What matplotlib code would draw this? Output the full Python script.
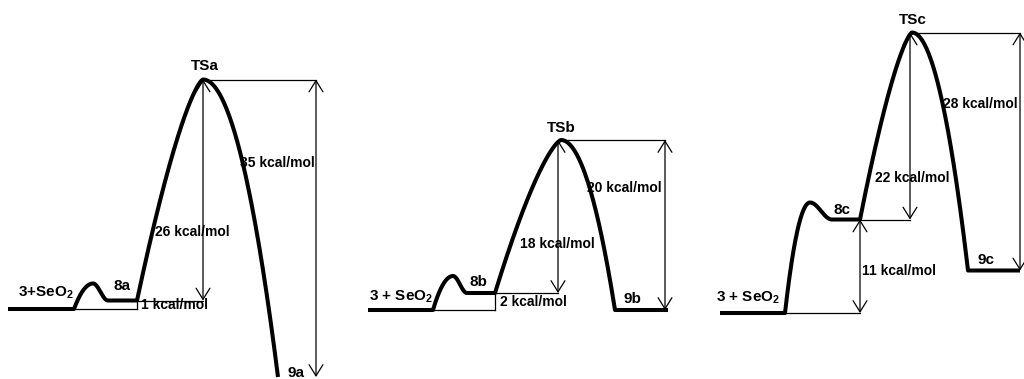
import numpy as np
import matplotlib.pyplot as plt

plt.rcParams['font.family'] = ['Liberation Sans', 'DejaVu Sans']
plt.rcParams['font.weight'] = 'bold'

# energies in kcal/mol relative to 3 + SeO2
start_labels = ['3+SeO$_\\mathregular{2}$', '3 + SeO$_\\mathregular{2}$', '3 + SeO$_\\mathregular{2}$']
int_labels = ['8a', '8b', '8c']
ts_labels = ['TSa', 'TSb', 'TSc']
prod_labels = ['9a', '9b', '9c']
E_bump = [3, 4, 13]      # small hump before the intermediate (not labelled)
E_int = [1, 2, 11]
E_ts = [27, 20, 33]
E_prod = [-8, 0, 5]

# horizontal layout of each profile (figure pixels)
xR0 = [8, 368, 720]
xR1 = [74, 433, 785]
xBump = [93, 453, 810]
xI0 = [108, 467, 832]
xI1 = [137, 495, 860]
xTS = [203, 561, 912]
xP0 = [278, 615, 968]
xP1 = [278, 668, 1020]
xArrI = [203, 558, 910]
xArrP = [316, 665, 1020]
base = [309, 310, 313]   # pixel row of the zero level in each panel
k = 8.5                  # pixels per kcal/mol

# label offsets in pixels (dx, dy)
off_start = [(0, 16), (0, 13), (-5, 15)]
off_int = [(0, 14), (-3, 11), (-4, 10)]
off_ts = [(2, 13), (0, 12), (1, 12)]
off_prod = [(-11, 4), (8, 11), (10, 11)]
off_b1 = [(4, 0), (5, 0), (2, -5)]
off_b2 = [(-11, -42), (-1, -27), (2, -52)]
off_b3 = [(-1, 65), (-3, 37), (-2, 48)]

fig = plt.figure(figsize=(10.24, 3.79), dpi=100)
arrow_kw = dict(arrowstyle='<->,head_length=0.8,head_width=0.5', mutation_scale=10,
                lw=0.9, color='black', shrinkA=0, shrinkB=0)
thin = dict(color='black', lw=0.9)
fs_small = 10
fs_big = 11

for i in range(3):
    ax = fig.add_axes([0, 0, 1, 1])
    ax.set_xlim(0, 1024)
    ax.set_ylim((base[i] - 379) / k, base[i] / k)
    ax.axis('off')

    t = np.linspace(0, 1, 80)
    xs = [np.array([xR0[i], xR1[i]]), xR1[i] + (xBump[i] - xR1[i]) * t,
          xBump[i] + (xI0[i] - xBump[i]) * t, np.array([xI0[i], xI1[i]]),
          xI1[i] + (xTS[i] - xI1[i]) * t, xTS[i] + (xP0[i] - xTS[i]) * t,
          np.array([xP0[i], xP1[i]])]
    es = [np.array([0, 0]), E_bump[i] - E_bump[i] * (1 - t) ** 2,
          E_bump[i] - (E_bump[i] - E_int[i]) * (1 - np.cos(np.pi * t)) / 2,
          np.array([E_int[i], E_int[i]]),
          E_ts[i] - (E_ts[i] - E_int[i]) * (1 - t) ** 1.4,
          E_ts[i] - (E_ts[i] - E_prod[i]) * t ** 2,
          np.array([E_prod[i], E_prod[i]])]
    ax.plot(np.concatenate(xs), np.concatenate(es), color='black', lw=2.9,
            solid_joinstyle='round', solid_capstyle='butt', zorder=3)

    # thin guide lines
    ax.plot([xR1[i], xI1[i]], [0, 0], **thin)
    ax.plot([xI1[i], xArrI[i]], [E_int[i], E_int[i]], **thin)
    ax.plot([xTS[i], xArrP[i]], [E_ts[i], E_ts[i]], **thin)
    if i < 2:
        ax.plot([xI1[i], xI1[i]], [0, E_int[i]], **thin)
    else:
        ax.annotate('', xy=(xI1[i], E_int[i]), xytext=(xI1[i], 0), arrowprops=arrow_kw)
    ax.annotate(f'{E_int[i]} kcal/mol', xy=(xI1[i], E_int[i] / 2), xytext=off_b1[i],
                textcoords='offset pixels', fontsize=fs_small, ha='left', va='center')

    ax.annotate('', xy=(xArrI[i], E_ts[i]), xytext=(xArrI[i], E_int[i]), arrowprops=arrow_kw)
    ax.annotate('', xy=(xArrP[i], E_ts[i]), xytext=(xArrP[i], E_prod[i]), arrowprops=arrow_kw)

    ax.annotate(f'{E_ts[i] - E_int[i]} kcal/mol', xy=(xArrI[i], (E_ts[i] + E_int[i]) / 2),
                xytext=off_b2[i], textcoords='offset pixels', fontsize=fs_small,
                ha='center', va='center', zorder=4)
    ax.annotate(f'{E_ts[i] - E_prod[i]} kcal/mol', xy=(xArrP[i], (E_ts[i] + E_prod[i]) / 2),
                xytext=off_b3[i], textcoords='offset pixels', fontsize=fs_small,
                ha='right', va='center', zorder=4)

    # species labels
    ax.annotate(start_labels[i], xy=(xR1[i], 0), xytext=off_start[i],
                textcoords='offset pixels', fontsize=fs_big, ha='right', va='center')
    ax.annotate(int_labels[i], xy=((xI0[i] + xI1[i]) / 2, E_int[i]), xytext=off_int[i],
                textcoords='offset pixels', fontsize=fs_big, ha='center', va='center')
    ax.annotate(ts_labels[i], xy=(xTS[i], E_ts[i]), xytext=off_ts[i],
                textcoords='offset pixels', fontsize=fs_big, ha='center', va='center')
    if i == 0:
        ax.annotate(prod_labels[i], xy=(xArrP[i], E_prod[i]), xytext=off_prod[i],
                    textcoords='offset pixels', fontsize=fs_big, ha='right', va='center')
    else:
        ax.annotate(prod_labels[i], xy=(xP0[i], E_prod[i]), xytext=off_prod[i],
                    textcoords='offset pixels', fontsize=fs_big, ha='left', va='center')

fig.savefig('out.png', dpi=100)
